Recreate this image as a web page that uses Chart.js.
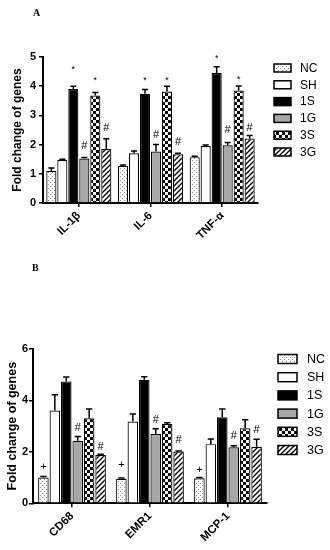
<!DOCTYPE html>
<html>
<head>
<meta charset="utf-8">
<script src="https://cdn.jsdelivr.net/npm/chart.js@4.4.1/dist/chart.umd.min.js"></script>
<style>
  body { margin: 0; background: #fff; width: 330px; height: 550px; position: relative; overflow: hidden; }
  .panel { position: absolute; left: 0; width: 330px; height: 275px; }
  .tag { position: absolute; font: bold 10px "Liberation Serif", serif; color: #000; }
</style>
</head>
<body>
<div class="panel" style="top:0"><canvas id="chartA" width="330" height="275"></canvas></div>
<div class="panel" style="top:275px"><canvas id="chartB" width="330" height="275"></canvas></div>
<div class="tag" style="left:33px;top:7px">A</div>
<div class="tag" style="left:32px;top:262px">B</div>
<script>
// groups / categories
const groups = ['NC', 'SH', '1S', '1G', '3S', '3G'];
const genesA = ['IL-1β', 'IL-6', 'TNF-α'];
const genesB = ['CD68', 'EMR1', 'MCP-1'];

// panel A means and SEM
const ncA = [1.10, 1.27, 1.57];
const shA = [1.47, 1.70, 1.95];
const s1A = [3.90, 3.74, 4.45];
const g1A = [1.52, 1.76, 1.98];
const s3A = [3.68, 3.82, 3.85];
const g3A = [1.85, 1.67, 2.21];
const ncErrA = [0.10, 0.03, 0.03];
const shErrA = [0.03, 0.08, 0.04];
const s1ErrA = [0.10, 0.15, 0.22];
const g1ErrA = [0.04, 0.24, 0.09];
const s3ErrA = [0.10, 0.18, 0.16];
const g3ErrA = [0.35, 0.03, 0.10];
// significance marks (level where the sign sits)
const starS1A = [4.64, 4.28, 5.00];
const starS3A = [4.28, 4.28, 4.30];
const hashG1A = [1.96, 2.33, 2.50];
const hashG3A = [2.57, 2.10, 2.56];

// panel B means and SEM
const ncB = [1.00, 0.95, 0.97];
const shB = [3.61, 3.18, 2.30];
const s1B = [4.74, 4.80, 3.35];
const g1B = [2.43, 2.69, 2.18];
const s3B = [3.31, 3.08, 2.92];
const g3B = [1.88, 2.01, 2.20];
const ncErrB = [0.04, 0.03, 0.03];
const shErrB = [0.61, 0.29, 0.20];
const s1ErrB = [0.17, 0.12, 0.32];
const g1ErrB = [0.17, 0.21, 0.06];
const s3ErrB = [0.36, 0.05, 0.33];
const g3ErrB = [0.03, 0.02, 0.29];
const plusNcB = [1.43, 1.49, 1.30];
const hashG1B = [2.92, 3.25, 2.62];
const hashG3B = [2.20, 2.47, 2.86];

const FONT = '"Liberation Sans", Arial, sans-serif';

function makePattern(kind) {
  const c = document.createElement('canvas');
  const g = c.getContext('2d');
  if (kind === 'dots') {
    c.width = c.height = 4;
    g.fillStyle = '#fff'; g.fillRect(0, 0, 4, 4);
    g.fillStyle = '#8a8a8a'; g.fillRect(0, 0, 1, 1); g.fillRect(2, 2, 1, 1);
  } else if (kind === 'checker') {
    c.width = c.height = 6;
    g.fillStyle = '#fff'; g.fillRect(0, 0, 6, 6);
    g.fillStyle = '#000'; g.fillRect(0, 0, 3, 3); g.fillRect(3, 3, 3, 3);
  } else {
    c.width = c.height = 5;
    g.fillStyle = '#fff'; g.fillRect(0, 0, 5, 5);
    g.strokeStyle = '#000'; g.lineWidth = 1.4;
    g.beginPath();
    g.moveTo(0, 5); g.lineTo(5, 0);
    g.moveTo(-1, 1); g.lineTo(1, -1);
    g.moveTo(4, 6); g.lineTo(6, 4);
    g.stroke();
  }
  return g.createPattern(c, 'repeat');
}

const fills = [makePattern('dots'), '#ffffff', '#000000', '#a8a8a8', makePattern('checker'), makePattern('stripes')];

// upward-only error bars with caps
const errorBars = {
  id: 'errorBars',
  afterDatasetsDraw(chart) {
    const ctx = chart.ctx, y = chart.scales.y;
    chart.data.datasets.forEach((ds, i) => {
      chart.getDatasetMeta(i).data.forEach((bar, j) => {
        const top = y.getPixelForValue(ds.data[j] + ds.errors[j]);
        const half = bar.width * 0.3;
        ctx.save();
        ctx.strokeStyle = '#000';
        ctx.lineWidth = 1.5;
        ctx.beginPath();
        ctx.moveTo(bar.x, bar.y);
        ctx.lineTo(bar.x, top);
        ctx.moveTo(bar.x - half, top);
        ctx.lineTo(bar.x + half, top);
        ctx.stroke();
        ctx.restore();
      });
    });
  }
};

// *, #, + signs above bars
const signs = {
  id: 'signs',
  afterDatasetsDraw(chart) {
    const ctx = chart.ctx, y = chart.scales.y;
    chart.data.datasets.forEach((ds, i) => {
      if (!ds.sign) return;
      chart.getDatasetMeta(i).data.forEach((bar, j) => {
        ctx.save();
        ctx.fillStyle = '#000';
        ctx.font = (ds.sign === '*' ? '9px ' : '11px ') + FONT;
        ctx.textAlign = 'center';
        ctx.textBaseline = 'middle';
        const dy = ds.sign === '*' ? 2 : 0;
        ctx.fillText(ds.sign, bar.x, y.getPixelForValue(ds.signAt[j]) + dy);
        ctx.restore();
      });
    });
  }
};

// legend with patterned boxes
const boxLegend = {
  id: 'boxLegend',
  afterDraw(chart, args, o) {
    const ctx = chart.ctx;
    chart.data.datasets.forEach((ds, i) => {
      const cy = o.y0 + i * o.step;
      ctx.save();
      ctx.fillStyle = ds.backgroundColor;
      ctx.fillRect(o.x, cy - o.h / 2, o.w, o.h);
      ctx.strokeStyle = '#000';
      ctx.lineWidth = 1.5;
      ctx.strokeRect(o.x, cy - o.h / 2, o.w, o.h);
      ctx.fillStyle = '#000';
      ctx.font = o.size + 'px ' + FONT;
      ctx.textBaseline = 'middle';
      ctx.fillText(ds.label, o.tx, cy + 0.5);
      ctx.restore();
    });
  }
};

function makeChart(id, cats, series, errs, signList, cfg) {
  const datasets = groups.map((name, i) => ({
    label: name,
    data: series[i],
    errors: errs[i],
    sign: signList[i] ? signList[i][0] : null,
    signAt: signList[i] ? signList[i][1] : null,
    backgroundColor: fills[i],
    borderColor: '#000',
    borderWidth: 1.2,
    categoryPercentage: cfg.catPct,
    barPercentage: 0.92
  }));
  return new Chart(document.getElementById(id), {
    type: 'bar',
    data: { labels: cats, datasets },
    options: {
      responsive: false,
      animation: false,
      devicePixelRatio: 1,
      layout: { padding: cfg.pad },
      plugins: {
        legend: { display: false },
        tooltip: { enabled: false },
        boxLegend: cfg.legend
      },
      scales: {
        x: {
          ticks: { color: '#000', font: { family: FONT, weight: 'bold', size: 11.5 }, minRotation: 45, maxRotation: 45, padding: 2 },
          grid: { offset: false, drawOnChartArea: false, tickLength: 4, color: '#000', lineWidth: 1.5 },
          border: { color: '#000', width: 2 },
          afterFit(s) { s.height = cfg.xH; }
        },
        y: {
          min: 0,
          max: cfg.yMax,
          ticks: { stepSize: cfg.step, color: '#000', font: { family: FONT, weight: 'bold', size: 11 }, padding: cfg.tickPad },
          grid: { drawOnChartArea: false, tickLength: 4, color: '#000', lineWidth: 1.5 },
          border: { color: '#000', width: 2 },
          title: {
            display: true,
            text: 'Fold change of genes',
            color: '#000',
            font: { family: FONT, weight: 'bold', size: cfg.titleSize, lineHeight: 1.2 },
            padding: { top: cfg.titlePad, bottom: 0 }
          },
          afterFit(s) { s.width = cfg.yW; }
        }
      }
    },
    plugins: [errorBars, signs, boxLegend]
  });
}

makeChart('chartA', genesA,
  [ncA, shA, s1A, g1A, s3A, g3A],
  [ncErrA, shErrA, s1ErrA, g1ErrA, s3ErrA, g3ErrA],
  [null, null, ['*', starS1A], ['#', hashG1A], ['*', starS3A], ['#', hashG3A]],
  {
    pad: { left: 0, right: 72, top: 57, bottom: 22 },
    xH: 50, yW: 43, yMax: 5, step: 1, tickPad: 3, titleSize: 12, titlePad: 10.8, catPct: 0.92,
    legend: { x: 274, tx: 300, y0: 68, step: 16.8, w: 17, h: 8, size: 12 }
  });

makeChart('chartB', genesB,
  [ncB, shB, s1B, g1B, s3B, g3B],
  [ncErrB, shErrB, s1ErrB, g1ErrB, s3ErrB, g3ErrB],
  [['+', plusNcB], null, null, ['#', hashG1B], null, ['#', hashG3B]],
  {
    pad: { left: 0, right: 63, top: 74, bottom: 6.7 },
    xH: 40, yW: 33, yMax: 6, step: 2, tickPad: 1, titleSize: 12.5, titlePad: 5.5, catPct: 0.88,
    legend: { x: 278, tx: 307, y0: 84, step: 18.2, w: 19, h: 9, size: 12.5 }
  });
</script>
</body>
</html>
